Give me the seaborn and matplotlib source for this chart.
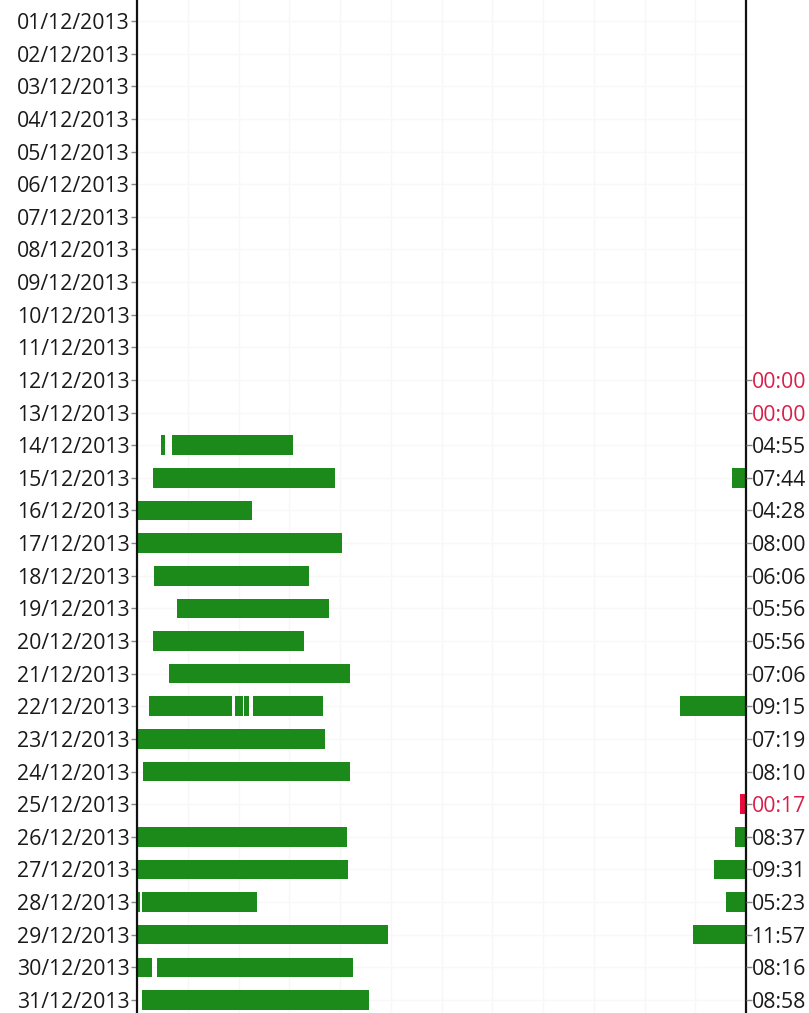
import numpy as np
import pandas as pd
import matplotlib
matplotlib.use("Agg")
import matplotlib.pyplot as plt
import seaborn as sns

# one row per day of December 2013
dates = [f"{d:02d}/12/2013" for d in range(1, 32)]

# sleep segments: row index, start hour, end hour (x axis runs 00:00 -> 24:00)
seg_day = [13, 13,
           14, 14,
           15, 16, 17, 18, 19, 20,
           21, 21, 21, 21, 21,
           22, 23, 24,
           25, 25,
           26, 26,
           27, 27, 27,
           28, 28,
           29, 29,
           30]
seg_start = [0.93, 1.36,
             0.64, 23.45,
             0.00, 0.00, 0.67, 1.59, 0.63, 1.27,
             0.48, 3.86, 4.23, 4.58, 21.40,
             0.00, 0.22, 23.76,
             0.00, 23.57,
             0.00, 22.75,
             0.00, 0.20, 23.21,
             0.00, 21.90,
             0.00, 0.78,
             0.19]
seg_end = [1.12, 6.15,
           7.81, 24.00,
           4.54, 8.09, 6.79, 7.58, 6.58, 8.39,
           3.73, 4.19, 4.41, 7.32, 24.00,
           7.41, 8.39, 24.00,
           8.26, 24.00,
           8.33, 24.00,
           0.13, 4.72, 24.00,
           9.90, 24.00,
           0.58, 8.52,
           9.15]
seg_short = [False] * 17 + [True] + [False] * 12   # the 25/12 nap is flagged red

# daily totals shown on the right axis (from 12/12 onwards)
total_days = list(range(11, 31))
total_labels = ["00:00", "00:00", "04:55", "07:44", "04:28", "08:00", "06:06",
                "05:56", "05:56", "07:06", "09:15", "07:19", "08:10", "00:17",
                "08:37", "09:31", "05:23", "11:57", "08:16", "08:58"]
total_flag = [True, True] + [False] * 11 + [True] + [False] * 6

GREEN = "#1b8a1b"
RED = "#ec0a3c"
RED_TXT = "#d81e4a"
TXT = "#1a1a1a"

segs = pd.DataFrame({"day": seg_day, "start": seg_start, "end": seg_end, "short": seg_short})
segs["width"] = segs["end"] - segs["start"]

sns.set_theme(style="white")
plt.rcParams["font.family"] = ["Open Sans", "DejaVu Sans"]

fig = plt.figure(figsize=(8.09, 10.13), dpi=100)
ax = fig.add_axes([137 / 809, 0.0, (746 - 137) / 809, 1.0])

# very faint background grid every 2 hours and per row
for h in range(2, 24, 2):
    ax.axvline(h, color="#f7f7f7", lw=1, zorder=0)
for i in range(len(dates)):
    ax.axhline(i, color="#f8f8f8", lw=1, zorder=0)

colors = [RED if s else GREEN for s in segs["short"]]
ax.barh(segs["day"], segs["width"], left=segs["start"], height=0.6,
        color=colors, edgecolor="none", zorder=2)

ax.set_xlim(0, 24)
ax.set_ylim(30.4, -0.645)
ax.set_xticks([])
ax.set_yticks(range(len(dates)))
ax.set_yticklabels(dates, fontsize=15.3, color=TXT)
ax.tick_params(axis="y", which="major", left=True, length=4, width=1,
               color="#888888", pad=1)

for s in ["top", "bottom"]:
    ax.spines[s].set_visible(False)
for s in ["left", "right"]:
    ax.spines[s].set_color("#111111")
    ax.spines[s].set_linewidth(1.6)

ax2 = ax.twinx()
ax2.set_ylim(ax.get_ylim())
ax2.set_yticks(total_days)
ax2.set_yticklabels(total_labels, fontsize=15.3)
for lab, red in zip(ax2.get_yticklabels(), total_flag):
    lab.set_color(RED_TXT if red else TXT)
ax2.tick_params(axis="y", right=True, length=4, width=1, color="#888888", pad=0)
for s in ["top", "bottom", "left", "right"]:
    ax2.spines[s].set_visible(False)
ax2.grid(False)

fig.savefig("out.png", dpi=100)
